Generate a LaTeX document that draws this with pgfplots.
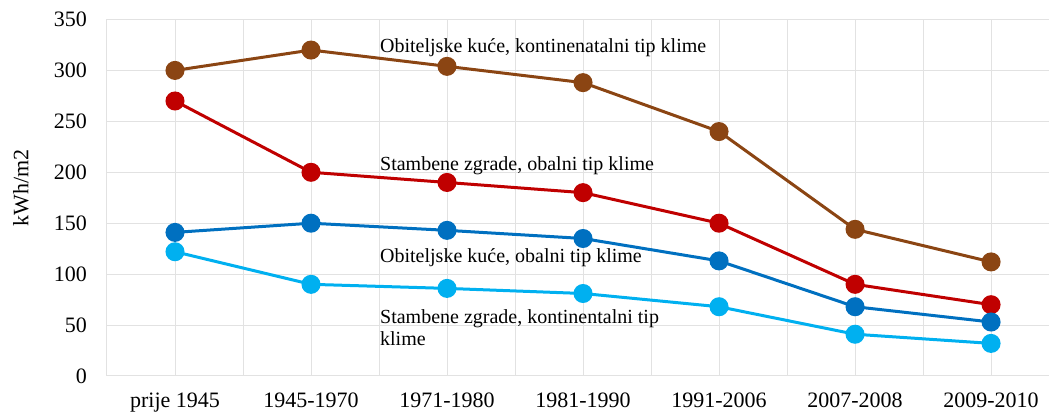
\documentclass[border=0pt]{standalone}
\usepackage{fontspec}
\setmainfont{Liberation Serif}
\setsansfont{Liberation Serif}
\usepackage{pgfplots}
\pgfplotsset{compat=1.18}
\definecolor{cbrown}{RGB}{139,69,19}
\definecolor{cred}{RGB}{192,0,0}
\definecolor{cblue}{RGB}{0,112,192}
\definecolor{clight}{RGB}{0,176,240}
\definecolor{cgrid}{RGB}{226,226,226}
\begin{document}
\begin{tikzpicture}
\begin{axis}[
  scale only axis, width=942pt, height=356.5pt,
  xmin=-0.5, xmax=6.426, ymin=0, ymax=350,
  xtick={0,...,6},
  xticklabels={prije 1945,1945-1970,1971-1980,1981-1990,1991-2006,2007-2008,2009-2010},
  minor xtick={-0.5,0.5,1.5,2.5,3.5,4.5,5.5},
  ytick={0,50,...,350},
  xmajorgrids, xminorgrids, ymajorgrids,
  major grid style={draw=cgrid, line width=1pt},
  minor grid style={draw=cgrid, line width=1pt},
  axis line style={draw=none},
  major tick length=0pt, minor tick length=0pt,
  tick style={draw=none},
  /pgf/number format/assume math mode=true,
  ticklabel style={font=\rmfamily\fontsize{22}{26}\selectfont, inner sep=0pt},
  yticklabel style={anchor=east, xshift=-20pt},
  xticklabel style={anchor=north, yshift=-17pt},
  ylabel={kWh/m2},
  ylabel style={font=\rmfamily\fontsize{22}{26}\selectfont, at={(axis description cs:0,0.5)}, anchor=north, inner sep=0pt, yshift=94pt, xshift=10pt},
  clip=false,
  every axis plot/.append style={line width=3pt, mark=*, mark size=8pt},
]
\addplot[cbrown, mark options={fill=cbrown}] coordinates {(0,300) (1,320) (2,304) (3,288) (4,240) (5,144) (6,112)};
\addplot[cred, mark options={fill=cred}] coordinates {(0,270) (1,200) (2,190) (3,180) (4,150) (5,90) (6,70)};
\addplot[cblue, mark options={fill=cblue}] coordinates {(0,141) (1,150) (2,143) (3,135) (4,113) (5,68) (6,53)};
\addplot[clight, mark options={fill=clight}] coordinates {(0,122) (1,90) (2,86) (3,81) (4,68) (5,41) (6,32)};
\begin{scope}[every node/.style={anchor=base west, inner sep=0pt, font=\rmfamily\fontsize{20}{23}\selectfont}]
\node at (axis cs:1.507,318) {Obiteljske kuće, kontinenatalni tip klime};
\node at (axis cs:1.507,202) {Stambene zgrade, obalni tip klime};
\node at (axis cs:1.507,111) {Obiteljske kuće, obalni tip klime};
\node at (axis cs:1.507,52) {Stambene zgrade, kontinentalni tip};
\node at (axis cs:1.507,29.8) {klime};
\end{scope}
\end{axis}
\pgfresetboundingbox
\path (-107pt,-41pt) rectangle (942pt,376pt);
\end{tikzpicture}
\end{document}
